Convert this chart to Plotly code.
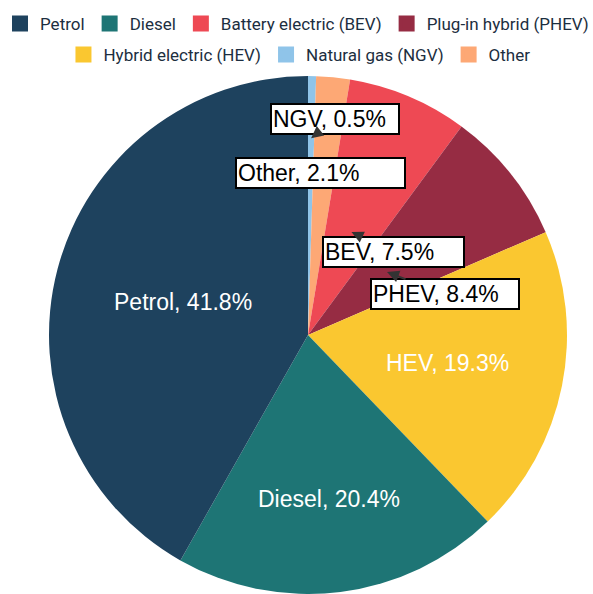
import math
import plotly.graph_objects as go

# ---- data (legend order) ----
categories = ["Petrol", "Diesel", "Battery electric (BEV)", "Plug-in hybrid (PHEV)",
              "Hybrid electric (HEV)", "Natural gas (NGV)", "Other"]
short_names = ["Petrol", "Diesel", "BEV", "PHEV", "HEV", "NGV", "Other"]
shares = [41.8, 20.4, 7.5, 8.4, 19.3, 0.5, 2.1]
colors = ["#1e425e", "#1e7575", "#ee4954", "#962c43", "#fac730", "#8fc4e9", "#fda875"]

# order of slices, clockwise from 12 o'clock
pie_order = ["NGV", "Other", "BEV", "PHEV", "HEV", "Diesel", "Petrol"]

# ---- style ----
W, H = 593, 594
CX, CY, R = 308, 335, 259          # pie centre / radius in px
dom_x = [(CX - R) / W, (CX + R) / W]
dom_y = [1 - (CY + R) / H, 1 - (CY - R) / H]
LABEL_FONT = "Arial, Liberation Sans, sans-serif"

# white labels inside the large slices: radius fraction along the mid-angle
inside_style = {"Petrol": 0.50, "Diesel": 0.64, "HEV": 0.55}
# boxed callouts: tip radius fraction, box offset (px), box width (px)
callout_style = {
    "NGV":   dict(f=0.76, ax=24, ay=-19, w=124),
    "Other": dict(f=0.56, ax=-2, ay=-18, w=165),
    "BEV":   dict(f=0.432, ax=42, ay=20, w=137),
    "PHEV":  dict(f=0.39, ax=58, ay=22, w=144),
}

idx = {s: i for i, s in enumerate(short_names)}
order_idx = [idx[s] for s in pie_order]

def label_text(i):
    return f"{short_names[i]}, {shares[i]:.1f}%"

pie = go.Pie(
    labels=[categories[i] for i in order_idx],
    values=[shares[i] for i in order_idx],
    marker=dict(colors=[colors[i] for i in order_idx], line=dict(width=0)),
    textinfo="none",
    sort=False,
    direction="clockwise",
    rotation=0,
    domain=dict(x=dom_x, y=dom_y),
    showlegend=False,
    hoverinfo="label+percent",
)

fig = go.Figure([pie])

# legend entries (two centred rows)
row1 = ["Petrol", "Diesel", "BEV", "PHEV"]
for i, cat in enumerate(categories):
    fig.add_trace(go.Scatter(
        x=[None], y=[None], mode="markers", name=cat,
        marker=dict(symbol="square", size=12, color=colors[i],
                    line=dict(width=4, color=colors[i])),
        legend="legend" if short_names[i] in row1 else "legend2",
        hoverinfo="skip",
    ))

# slice mid-angles (clockwise from 12 o'clock)
total = sum(shares)
cum = 0.0
mid_angle = {}
for name in pie_order:
    v = shares[idx[name]]
    mid_angle[name] = (cum + v / 2) / total * 360
    cum += v

def polar_to_paper(name, f):
    th = math.radians(mid_angle[name])
    px = CX + R * f * math.sin(th)
    py = CY - R * f * math.cos(th)
    return px / W, 1 - py / H

annotations = []
for name, f in inside_style.items():
    x, y = polar_to_paper(name, f)
    annotations.append(dict(
        x=x, y=y, xref="paper", yref="paper", showarrow=False,
        xanchor="center", yanchor="middle",
        text=label_text(idx[name]),
        font=dict(family=LABEL_FONT, size=23, color="white"),
    ))

for name, st in callout_style.items():
    x, y = polar_to_paper(name, st["f"])
    annotations.append(dict(
        x=x, y=y, xref="paper", yref="paper",
        text=label_text(idx[name]),
        showarrow=True, ax=st["ax"], ay=st["ay"],
        arrowhead=2, arrowsize=1.2, arrowwidth=2, arrowcolor="#333333",
        standoff=0,
        font=dict(family=LABEL_FONT, size=23, color="black"),
        bgcolor="white", bordercolor="black", borderwidth=2, borderpad=1,
        width=st["w"], align="left",
    ))

legend_common = dict(
    orientation="h", xanchor="center", yanchor="middle",
    font=dict(family="Roboto", size=17, color="#1c2e40"),
    bgcolor="rgba(0,0,0,0)", itemsizing="trace",
)

fig.update_layout(
    width=W, height=H,
    margin=dict(l=0, r=0, t=0, b=0),
    paper_bgcolor="white", plot_bgcolor="white",
    xaxis=dict(visible=False), yaxis=dict(visible=False),
    legend=dict(x=0.505, y=1 - 24 / H, **legend_common),
    legend2=dict(x=0.505, y=1 - 55 / H, **legend_common),
    annotations=annotations,
)

fig.write_html("out.html", config={"displayModeBar": False},
               post_script="document.body.style.margin='0';")
